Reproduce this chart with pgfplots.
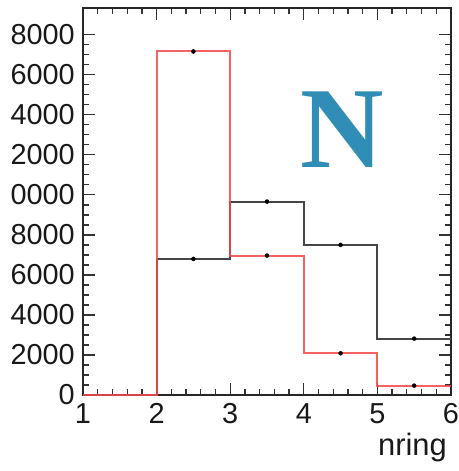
\documentclass[border=0pt]{standalone}
\usepackage{fontspec}
\setmainfont{Liberation Sans}
\newfontfamily\serifbold{Liberation Serif}
\usepackage{pgfplots}
\pgfplotsset{compat=1.18}
\definecolor{histred}{RGB}{245,70,70}
\definecolor{histgray}{RGB}{70,70,70}
\definecolor{labelblue}{RGB}{48,142,182}
\begin{document}
\begin{tikzpicture}
\begin{axis}[
  scale only axis,
  width=368bp, height=387bp,
  xmin=1, xmax=6, ymin=0, ymax=19335,
  axis line style={line width=2bp, black!85},
  tick align=inside,
  tick style={line width=1.3bp, black!80},
  major tick length=12bp, minor tick length=6bp,
  xtick={1,2,3,4,5,6},
  xticklabels={1,2,3,4,5,6},
  minor x tick num=4,
  ytick={0,2000,4000,6000,8000,10000,12000,14000,16000,18000},
  yticklabels={0,2000,4000,6000,8000,0000,2000,4000,6000,8000},
  minor y tick num=3,
  scaled y ticks=false,
  every tick label/.append style={font=\fontsize{29}{31}\selectfont, text=black!90},
  xticklabel style={inner sep=0pt, yshift=-8bp},
  yticklabel style={inner sep=0pt, xshift=-8bp},
  xlabel={nring},
  xlabel style={at={(rel axis cs:1,0)}, anchor=base east, inner sep=0pt,
    yshift=-60bp, xshift=-4bp, font=\fontsize{31}{33}\selectfont, text=black!90},
  clip=false,
]
% second histogram (gray)
\addplot[const plot, histgray, line width=2bp] coordinates {
  (1,0) (2,6800) (3,9665) (4,7500) (5,2817) (6,2817)
};
\addplot[only marks, mark=none, draw=none,
  error bars/.cd, y dir=both, y explicit, error bar style={line width=0.8bp, black!80}, error mark=none]
  coordinates {
  (2.5,6800) +- (0,82)
  (3.5,9665) +- (0,98)
  (4.5,7500) +- (0,87)
  (5.5,2817) +- (0,53)
};
% first histogram (red)
\addplot[const plot, histred, line width=2bp, opacity=0.85] coordinates {
  (1,0) (2,17165) (3,6967) (4,2083) (5,467) (6,467)
};
\addplot[only marks, mark=none, draw=none,
  error bars/.cd, y dir=both, y explicit, error bar style={line width=0.8bp, black!60!red}, error mark=none]
  coordinates {
  (2.5,17165) +- (0,131)
  (3.5,6967) +- (0,83)
  (4.5,2083) +- (0,46)
  (5.5,467) +- (0,22)
};
\node[anchor=base, inner sep=0pt, text=labelblue,
  font=\serifbold\bfseries\fontsize{116}{116}\selectfont]
  at (rel axis cs:0.704,0.589) {N};
\coordinate (sw) at (rel axis cs:0,0);
\coordinate (ne) at (rel axis cs:1,1);
\end{axis}
\pgfresetboundingbox
\path ([shift={(-83bp,-76bp)}]sw) rectangle ([shift={(8bp,8bp)}]ne);
\end{tikzpicture}
\end{document}
